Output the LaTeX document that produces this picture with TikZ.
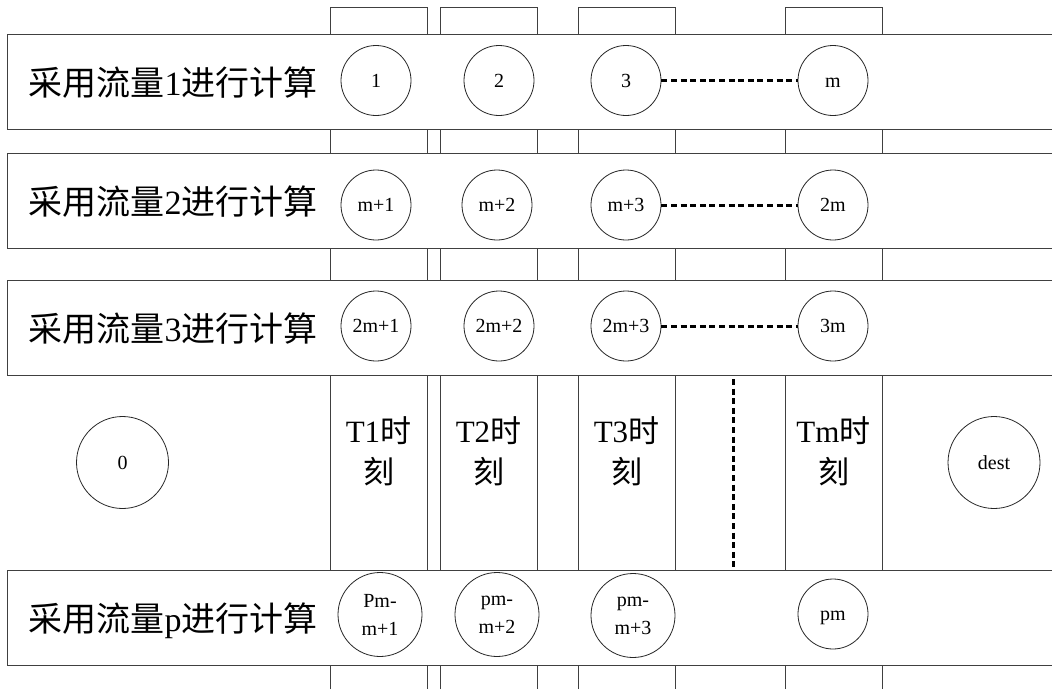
\documentclass[tikz,border=0pt]{standalone}
\usepackage{fontspec}
\setmainfont{Liberation Serif}
\newfontfamily\cjk{Noto Sans CJK SC}
\begin{document}
\begin{tikzpicture}[x=1pt,y=-1pt,
  lin/.style={draw=black!75,line width=0.9pt},
  ndbase/.style={circle,draw=black!85,line width=0.8pt,inner sep=0pt,minimum size=70pt,font=\fontsize{20}{28}\selectfont,align=center},
  nd/.style={ndbase,text height=13pt,text depth=0pt},
  ndbig/.style={ndbase,minimum size=84pt},
  ndhuge/.style={nd,minimum size=92pt},
  rowlab/.style={font=\fontsize{34}{40}\selectfont,inner sep=0pt,text height=26pt,text depth=0pt},
  tlab/.style={font=\fontsize{31}{41}\selectfont,align=center,inner sep=0pt},
  dots/.style={line width=3pt,dash pattern=on 6pt off 3.6pt,black}
]
\useasboundingbox (0,0) rectangle (1052,689);
% time columns
\foreach \a/\b in {330/427,440/537,578/675,785/882}{
  \draw[lin] (\a,689) -- (\a,7.5) -- (\b,7.5) -- (\b,689);
}
% bands
\foreach \t/\b in {34/129,153/248,280/375,570/665}{
  \fill[white] (7,\t) rectangle (1052,\b);
  \draw[lin] (1052,\t) -- (7,\t) -- (7,\b) -- (1052,\b);
}
% row labels
\node[rowlab] (r1) at (173,82) {{\cjk 采用流量}1{\cjk 进行计算}};
\node[rowlab] (r2) at (173,201) {{\cjk 采用流量}2{\cjk 进行计算}};
\node[rowlab] (r3) at (173,328) {{\cjk 采用流量}3{\cjk 进行计算}};
\node[rowlab] (rp) at (173,618) {{\cjk 采用流量}p{\cjk 进行计算}};
% row 1
\node[nd] (a1) at (376,80.5) {1};
\node[nd] (a2) at (499,80.5) {2};
\node[nd] (a3) at (626,80.5) {3};
\node[nd] (am) at (833,80.5) {m};
% row 2
\node[nd] (b1) at (376,205) {m+1};
\node[nd] (b2) at (497,205) {m+2};
\node[nd] (b3) at (626,205) {m+3};
\node[nd] (bm) at (833,205) {2m};
% row 3
\node[nd] (c1) at (376,326) {2m+1};
\node[nd] (c2) at (499,326) {2m+2};
\node[nd] (c3) at (626,326) {2m+3};
\node[nd] (cm) at (833,326) {3m};
% bottom row
\node[ndbig] (p1) at (380,614.5) {Pm-\\m+1};
\node[ndbig] (p2) at (497,614.5) {pm-\\m+2};
\node[ndbig] (p3) at (633,615.5) {pm-\\m+3};
\node[nd] (pm) at (833,614) {pm};
% source and destination
\node[ndhuge] (s0) at (122.5,462.5) {0};
\node[ndhuge] (dst) at (994,462.5) {dest};
% time labels
\node[tlab] (t1) at (378.5,451) {T1{\cjk 时}\\{\cjk 刻}};
\node[tlab] (t2) at (488.5,451) {T2{\cjk 时}\\{\cjk 刻}};
\node[tlab] (t3) at (626.5,451) {T3{\cjk 时}\\{\cjk 刻}};
\node[tlab] (tm) at (833.5,451) {Tm{\cjk 时}\\{\cjk 刻}};
% dotted connectors
\draw[dots] (a3) -- (am);
\draw[dots] (b3) -- (bm);
\draw[dots] (c3) -- (cm);
\coordinate (vt) at (733,379);
\coordinate (vb) at (733,571);
\draw[dots] (vt) -- (vb);
\end{tikzpicture}
\end{document}
